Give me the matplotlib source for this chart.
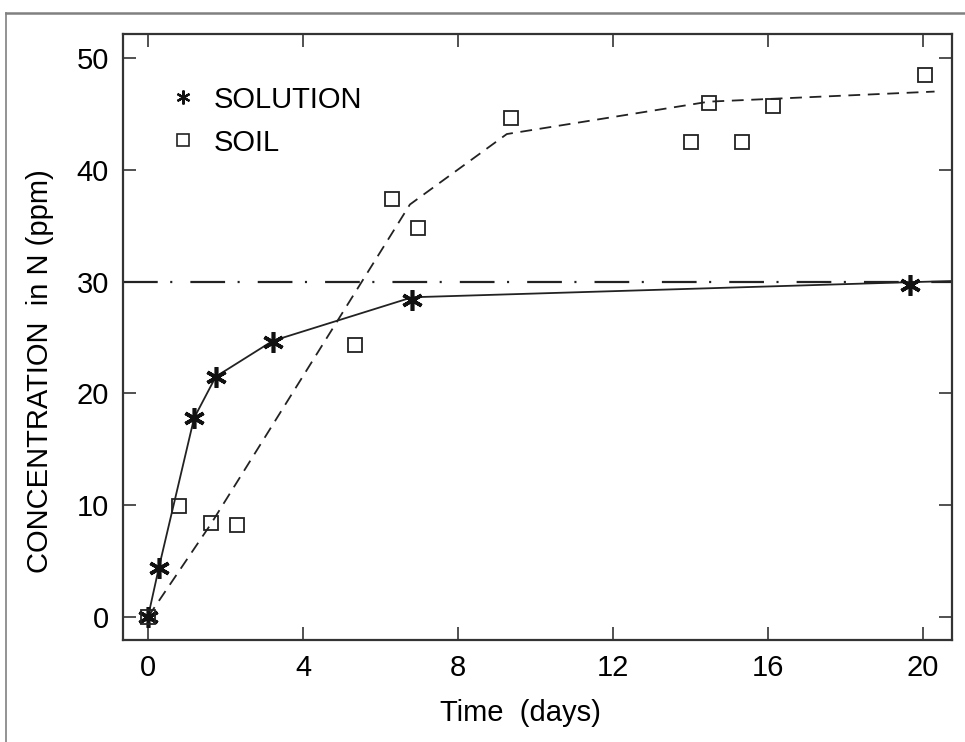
import matplotlib
matplotlib.use("Agg")
import matplotlib.pyplot as plt
from matplotlib.lines import Line2D

plt.rcParams['font.family'] = ['Liberation Sans', 'DejaVu Sans']
plt.rcParams['lines.scale_dashes'] = False

# Measured data points
solution_t = [0.0, 0.28, 1.19, 1.75, 3.22, 6.82, 19.66]
solution_c = [0.0, 4.4, 17.8, 21.5, 24.6, 28.35, 29.7]

soil_t = [0.0, 0.80, 1.62, 2.29, 5.34, 6.31, 6.98, 9.38, 14.01, 14.49, 15.32, 16.12, 20.05]
soil_c = [0.0, 9.9, 8.4, 8.2, 24.3, 37.4, 34.8, 44.6, 42.45, 46.0, 42.45, 45.7, 48.5]

# Fitted curves (vertices)
sol_fit_t = [0.0, 0.28, 1.19, 1.75, 3.22, 6.82, 19.66, 20.75]
sol_fit_c = [0.0, 4.4, 17.8, 21.5, 24.7, 28.6, 29.95, 30.05]

soil_fit_t = [0.0, 1.62, 6.76, 9.26, 14.48, 20.3]
soil_fit_c = [0.0, 8.3, 36.9, 43.2, 46.1, 47.0]

ref_level = 30.0

xticks = [0, 4, 8, 12, 16, 20]
yticks = [0, 10, 20, 30, 40, 50]
legend_labels = ['SOLUTION', 'SOIL']

W, H = 965, 742
FS = 21
fig = plt.figure(figsize=(W / 100, H / 100), dpi=100)
ax = fig.add_axes([123 / W, 1 - 640 / H, (952 - 123) / W, (640 - 34) / H])

# outer frame (top and left gray lines)
fig.add_artist(Line2D([6 / W, 1.0], [1 - 13 / H, 1 - 13 / H], transform=fig.transFigure,
                      color='#808080', lw=1.8))
fig.add_artist(Line2D([6 / W, 6 / W], [0.0, 1 - 13 / H], transform=fig.transFigure,
                      color='#808080', lw=1.2))

ax.axhline(ref_level, color='#222222', lw=1.6, dashes=(25, 9, 1.5, 13))
ax.plot(sol_fit_t, sol_fit_c, color='#222222', lw=1.3)
ax.plot(soil_fit_t, soil_fit_c, color='#222222', lw=1.3, dashes=(8.5, 5.5))

ax.plot(solution_t, solution_c, linestyle='none', marker=(6, 2, 0), markersize=15,
        markeredgewidth=2.6, color='#111111')
ax.plot(soil_t, soil_c, linestyle='none', marker='s', markersize=10, fillstyle='none',
        markeredgewidth=1.3, color='#222222')

ax.set_xlim(-0.645, 20.75)
ax.set_ylim(-2.06, 52.15)
ax.set_xticks(xticks)
ax.set_yticks(yticks)
ax.tick_params(direction='in', length=9.5, width=1.2, color='#333333', labelsize=FS,
               top=True, right=True, pad=10)
for s in ax.spines.values():
    s.set_linewidth(1.6)
    s.set_color('#333333')

ax.set_xlabel('Time  (days)', fontsize=FS)
ax.set_ylabel('CONCENTRATION  in N (ppm)', fontsize=FS)
ax.xaxis.set_label_coords(0.479, -0.097)
ax.yaxis.set_label_coords(-0.083, 0.444)

handles = [
    Line2D([], [], linestyle='none', marker=(6, 2, 0), markersize=10, markeredgewidth=1.6,
           color='#111111'),
    Line2D([], [], linestyle='none', marker='s', markersize=8, fillstyle='none',
           markeredgewidth=1.2, color='#222222'),
]
ax.legend(handles, legend_labels, loc='upper left', bbox_to_anchor=(0.055, 0.915),
          frameon=False, fontsize=FS, handlelength=1.0, handletextpad=0.55,
          labelspacing=0.52, borderpad=0, borderaxespad=0)

fig.savefig('out.png', dpi=100)
